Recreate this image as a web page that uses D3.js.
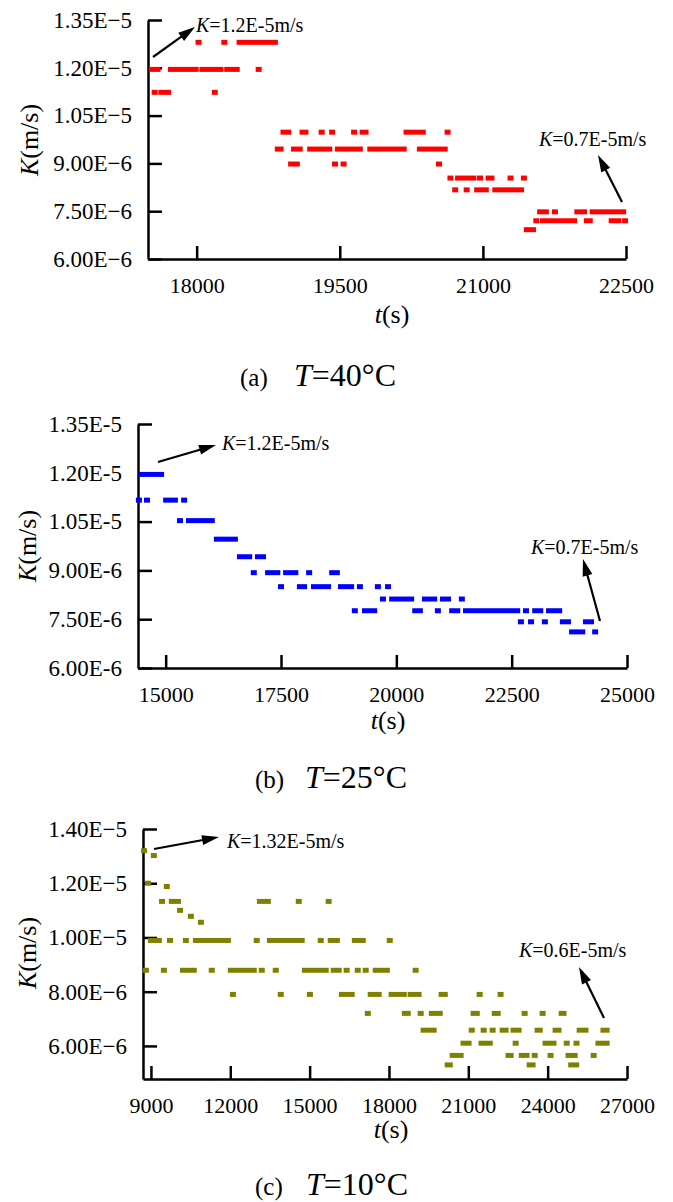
<!DOCTYPE html>
<html>
<head>
<meta charset="utf-8">
<script src="https://cdn.jsdelivr.net/npm/d3@7"></script>
<style>
body { margin: 0; background: #fff; }
text { font-family: "Liberation Serif", "Times New Roman", serif; fill: #000; }
</style>
</head>
<body>
<script>
// each run is a row of touching markers at the same K: [K (m/s), first t (s), last t (s)]
var runs40 = [
  [12.8e-6, 18020, 18020], [12.8e-6, 18290, 18290], [12.8e-6, 18450, 18820],
  [11.95e-6, 17530, 17590], [11.95e-6, 17730, 17990], [11.95e-6, 18060, 18250], [11.95e-6, 18320, 18420], [11.95e-6, 18650, 18650],
  [11.23e-6, 17560, 17560], [11.23e-6, 17630, 17700], [11.23e-6, 18190, 18190],
  [9.98e-6, 18910, 18960], [9.98e-6, 19110, 19140], [9.98e-6, 19310, 19310], [9.98e-6, 19420, 19420], [9.98e-6, 19650, 19650],
  [9.98e-6, 19740, 19770], [9.98e-6, 20200, 20370], [9.98e-6, 20630, 20630],
  [9.45e-6, 18850, 18880], [9.45e-6, 19020, 19080], [9.45e-6, 19190, 19390], [9.45e-6, 19480, 19710], [9.45e-6, 19820, 20170], [9.45e-6, 20340, 20600],
  [8.98e-6, 18990, 19050], [8.98e-6, 19450, 19450], [8.98e-6, 19540, 19540], [8.98e-6, 20540, 20540],
  [8.54e-6, 20660, 20660], [8.54e-6, 20740, 20900], [8.54e-6, 20970, 20970], [8.54e-6, 21060, 21090], [8.54e-6, 21290, 21290], [8.54e-6, 21430, 21430],
  [8.17e-6, 20710, 20710], [8.17e-6, 20830, 20830], [8.17e-6, 20940, 21030], [8.17e-6, 21130, 21400],
  [7.48e-6, 21600, 21660], [7.48e-6, 21755, 21755], [7.48e-6, 21990, 22060], [7.48e-6, 22150, 22470],
  [7.2e-6, 21560, 21560], [7.2e-6, 21630, 21955], [7.2e-6, 22090, 22120], [7.2e-6, 22350, 22420], [7.2e-6, 22490, 22490],
  [6.92e-6, 21460, 21525]
];
var runs25 = [
  [11.95e-6, 14480, 14900],
  [11.16e-6, 14420, 14420], [11.16e-6, 14595, 14595], [11.16e-6, 15010, 15200], [11.16e-6, 15400, 15400],
  [10.53e-6, 15310, 15310], [10.53e-6, 15505, 16000],
  [9.96e-6, 16110, 16500],
  [9.42e-6, 16610, 16810], [9.42e-6, 17000, 17110],
  [8.93e-6, 16910, 16910], [8.93e-6, 17220, 17420], [8.93e-6, 17610, 17810], [8.93e-6, 18110, 18110], [8.93e-6, 18610, 18710],
  [8.5e-6, 17500, 17500], [8.5e-6, 17910, 18000], [8.5e-6, 18215, 18520], [8.5e-6, 18800, 19020], [8.5e-6, 19210, 19210], [8.5e-6, 19600, 19600], [8.5e-6, 19820, 19820],
  [8.12e-6, 19710, 19710], [8.12e-6, 19910, 20320], [8.12e-6, 20620, 20820], [8.12e-6, 21010, 21120], [8.12e-6, 21420, 21420],
  [7.76e-6, 19100, 19100], [7.76e-6, 19320, 19520], [7.76e-6, 20410, 20510], [7.76e-6, 20900, 20900], [7.76e-6, 21210, 21320],
  [7.76e-6, 21510, 22620], [7.76e-6, 22810, 22810], [7.76e-6, 23010, 23120], [7.76e-6, 23310, 23530],
  [7.42e-6, 22700, 22700], [7.42e-6, 22920, 22920], [7.42e-6, 23220, 23220], [7.42e-6, 23610, 23720], [7.42e-6, 24110, 24220],
  [7.11e-6, 23810, 24030], [7.11e-6, 24310, 24310]
];
var runs10 = [
  [13.2e-6, 8740, 8740], [13.02e-6, 9110, 9110], [12.0e-6, 8890, 8890], [11.88e-6, 9600, 9600],
  [11.33e-6, 9420, 9420], [11.33e-6, 9790, 10020], [11.33e-6, 13120, 13420], [11.33e-6, 14590, 14590], [11.33e-6, 15720, 15720],
  [11.0e-6, 10100, 10100], [10.78e-6, 10510, 10510], [10.56e-6, 10890, 10890],
  [9.89e-6, 9000, 9300], [9.89e-6, 9720, 9720], [9.89e-6, 10320, 10320], [9.89e-6, 10700, 11910], [9.89e-6, 13000, 13000],
  [9.89e-6, 13500, 14700], [9.89e-6, 15420, 15420], [9.89e-6, 15800, 16030], [9.89e-6, 16710, 17010], [9.89e-6, 18030, 18030],
  [8.79e-6, 8810, 8810], [8.79e-6, 9490, 9490], [8.79e-6, 10210, 10620], [8.79e-6, 11300, 11300], [8.79e-6, 12020, 12890],
  [8.79e-6, 13190, 13190], [8.79e-6, 13720, 13720], [8.79e-6, 14820, 15610], [8.79e-6, 15910, 16100], [8.79e-6, 16400, 16400],
  [8.79e-6, 16820, 16820], [8.79e-6, 17120, 17120], [8.79e-6, 17500, 17920], [8.79e-6, 19010, 19010],
  [7.9e-6, 12100, 12100], [7.9e-6, 13910, 13910], [7.9e-6, 15010, 15010], [7.9e-6, 16220, 16590], [7.9e-6, 17310, 17610],
  [7.9e-6, 18100, 18560], [7.9e-6, 18820, 19120], [7.9e-6, 19990, 20110], [7.9e-6, 21430, 21430], [7.9e-6, 22220, 22220],
  [7.2e-6, 17200, 17200], [7.2e-6, 18600, 18710], [7.2e-6, 19200, 19200], [7.2e-6, 19620, 19920], [7.2e-6, 21200, 21320],
  [7.2e-6, 22000, 22110], [7.2e-6, 23130, 23130], [7.2e-6, 23810, 23810], [7.2e-6, 24530, 24600],
  [6.58e-6, 19310, 19690], [6.58e-6, 21130, 21130], [6.58e-6, 21580, 21580], [6.58e-6, 21920, 21920], [6.58e-6, 22300, 22410],
  [6.58e-6, 22710, 22900], [6.58e-6, 23620, 23700], [6.58e-6, 24300, 24410], [6.58e-6, 25210, 25430], [6.58e-6, 26110, 26230],
  [6.1e-6, 20820, 21010], [6.1e-6, 21500, 21810], [6.1e-6, 22790, 22790], [6.1e-6, 23920, 24220], [6.1e-6, 24720, 24720],
  [6.1e-6, 25090, 25090], [6.1e-6, 25920, 26230],
  [5.65e-6, 20410, 20710], [5.65e-6, 22520, 22600], [5.65e-6, 23020, 23200], [5.65e-6, 23510, 23510], [5.65e-6, 24110, 24110],
  [5.65e-6, 24790, 25020], [5.65e-6, 25740, 25740],
  [5.3e-6, 20220, 20300], [5.3e-6, 23320, 23430], [5.3e-6, 24890, 25080]
];

var xTicks40 = [18000, 19500, 21000, 22500];
var xTicks25 = [15000, 17500, 20000, 22500, 25000];
var xTicks10 = [9000, 12000, 15000, 18000, 21000, 24000, 27000];
var yTicks40 = [6.0e-6, 7.5e-6, 9.0e-6, 1.05e-5, 1.2e-5, 1.35e-5];
var yLabels40 = ["6.00E\u22126", "7.50E\u22126", "9.00E\u22126", "1.05E\u22125", "1.20E\u22125", "1.35E\u22125"];
var yTicks25 = [6.0e-6, 7.5e-6, 9.0e-6, 1.05e-5, 1.2e-5, 1.35e-5];
var yLabels25 = ["6.00E-6", "7.50E-6", "9.00E-6", "1.05E-5", "1.20E-5", "1.35E-5"];
var yTicks10 = [6.0e-6, 8.0e-6, 1.0e-5, 1.2e-5, 1.4e-5];
var yLabels10 = ["6.00E\u22126", "8.00E\u22126", "1.00E\u22125", "1.20E\u22125", "1.40E\u22125"];

var panels = [
  {runs: runs40, color: "#ff0000", xDomain: [17490, 22500], xRange: [148, 626], yDomain: [6.0e-6, 1.35e-5], yRange: [259, 20],
   xTicks: xTicks40, yTicks: yTicks40, yLabels: yLabels40,
   yTitle: [30, 140], xTitle: [392, 323], cap: ["(a)", "=40\u00b0C", 240, 294, 386],
   notes: [{x1: 153, y1: 57, x2: 195, y2: 27, tx: 196, ty: 32, s: "=1.2E-5m/s"},
           {x1: 622, y1: 202, x2: 598, y2: 155, tx: 539, ty: 146, s: "=0.7E-5m/s"}]},
  {runs: runs25, color: "#0000ff", xDomain: [14400, 25000], xRange: [138, 627], yDomain: [6.0e-6, 1.35e-5], yRange: [668, 424],
   xTicks: xTicks25, yTicks: yTicks25, yLabels: yLabels25,
   yTitle: [28, 546], xTitle: [388, 729], cap: ["(b)", "=25\u00b0C", 255, 305, 788],
   notes: [{x1: 158, y1: 462, x2: 216, y2: 445, tx: 222, ty: 450, s: "=1.2E-5m/s"},
           {x1: 600, y1: 621, x2: 583, y2: 559, tx: 531, ty: 554, s: "=0.7E-5m/s"}]},
  {runs: runs10, color: "#808000", xDomain: [8700, 27000], xRange: [143, 627], yDomain: [4.78e-6, 1.4e-5], yRange: [1079, 829],
   xTicks: xTicks10, yTicks: yTicks10, yLabels: yLabels10,
   yTitle: [28, 953], xTitle: [391, 1138], cap: ["(c)", "=10\u00b0C", 255, 306, 1195],
   notes: [{x1: 154, y1: 849, x2: 219, y2: 837, tx: 227, ty: 848, s: "=1.32E-5m/s"},
           {x1: 604, y1: 1018, x2: 579, y2: 967, tx: 519, ty: 957, s: "=0.6E-5m/s"}]}
];

var svg = d3.select("body").append("svg")
    .attr("width", 673)
    .attr("height", 1202);

panels.forEach(drawPanel);

function drawPanel(p){
    var x = d3.scaleLinear().domain(p.xDomain).range(p.xRange);
    var y = d3.scaleLinear().domain(p.yDomain).range(p.yRange);
    var g = svg.append("g");

    var xAxis = g.append("g")
        .attr("transform", "translate(0," + p.yRange[0] + ")")
        .call(d3.axisBottom(x).tickValues(p.xTicks).tickFormat(d3.format("d"))
            .tickSizeInner(-13).tickSizeOuter(0).tickPadding(18));
    var yAxis = g.append("g")
        .attr("transform", "translate(" + p.xRange[0] + ",0)")
        .call(d3.axisLeft(y).tickValues(p.yTicks).tickFormat(function(d, i){ return p.yLabels[i]; })
            .tickSizeInner(-14).tickSizeOuter(0).tickPadding(16));
    [xAxis, yAxis].forEach(function(a){
        a.attr("font-family", null).attr("font-size", null);
        a.selectAll("path, line").attr("stroke", "#000").attr("stroke-width", 2.5);
        a.selectAll("text").attr("fill", "#000");
    });
    xAxis.selectAll("text").style("font-size", "22px");
    yAxis.selectAll("text").style("font-size", "23px");

    //markers drawn over the axes, as in the original
    g.append("g").selectAll("rect")
        .data(p.runs)
        .enter()
        .append("rect")
        .attr("x", function(d){ return x(d[1]) - 3; })
        .attr("width", function(d){ return x(d[2]) - x(d[1]) + 6; })
        .attr("y", function(d){ return y(d[0]) - 2.5; })
        .attr("height", 5)
        .attr("fill", p.color);

    //axis titles
    var yt = g.append("text")
        .attr("transform", "translate(" + p.yTitle[0] + "," + p.yTitle[1] + ") rotate(-90)")
        .attr("text-anchor", "middle")
        .attr("dy", "0.32em")
        .style("font-size", "26px");
    yt.append("tspan").style("font-style", "italic").text("K");
    yt.append("tspan").text("(m/s)");

    var xt = g.append("text")
        .attr("x", p.xTitle[0])
        .attr("y", p.xTitle[1])
        .attr("text-anchor", "middle")
        .style("font-size", "26px");
    xt.append("tspan").style("font-style", "italic").text("t");
    xt.append("tspan").text("(s)");

    //caption below the panel
    g.append("text")
        .attr("x", p.cap[2])
        .attr("y", p.cap[4])
        .style("font-size", "25px")
        .text(p.cap[0]);
    var ct = g.append("text")
        .attr("x", p.cap[3])
        .attr("y", p.cap[4])
        .style("font-size", "32px");
    ct.append("tspan").style("font-style", "italic").text("T");
    ct.append("tspan").text(p.cap[1]);

    //arrows with K labels
    p.notes.forEach(function(n){
        var dx = n.x2 - n.x1, dy = n.y2 - n.y1;
        var len = Math.sqrt(dx * dx + dy * dy);
        var ux = dx / len, uy = dy / len;
        var hl = 17, hw = 5;
        var bx = n.x2 - ux * hl, by = n.y2 - uy * hl;
        g.append("line")
            .attr("x1", n.x1).attr("y1", n.y1)
            .attr("x2", bx + ux * 2).attr("y2", by + uy * 2)
            .attr("stroke", "#000")
            .attr("stroke-width", 2.2);
        g.append("path")
            .attr("d", "M" + n.x2 + "," + n.y2 +
                "L" + (bx - uy * hw) + "," + (by + ux * hw) +
                "L" + (bx + uy * hw) + "," + (by - ux * hw) + "Z")
            .attr("fill", "#000");
        var t = g.append("text")
            .attr("x", n.tx)
            .attr("y", n.ty)
            .style("font-size", "20px");
        t.append("tspan").style("font-style", "italic").text("K");
        t.append("tspan").text(n.s);
    });
}
</script>
</body>
</html>
